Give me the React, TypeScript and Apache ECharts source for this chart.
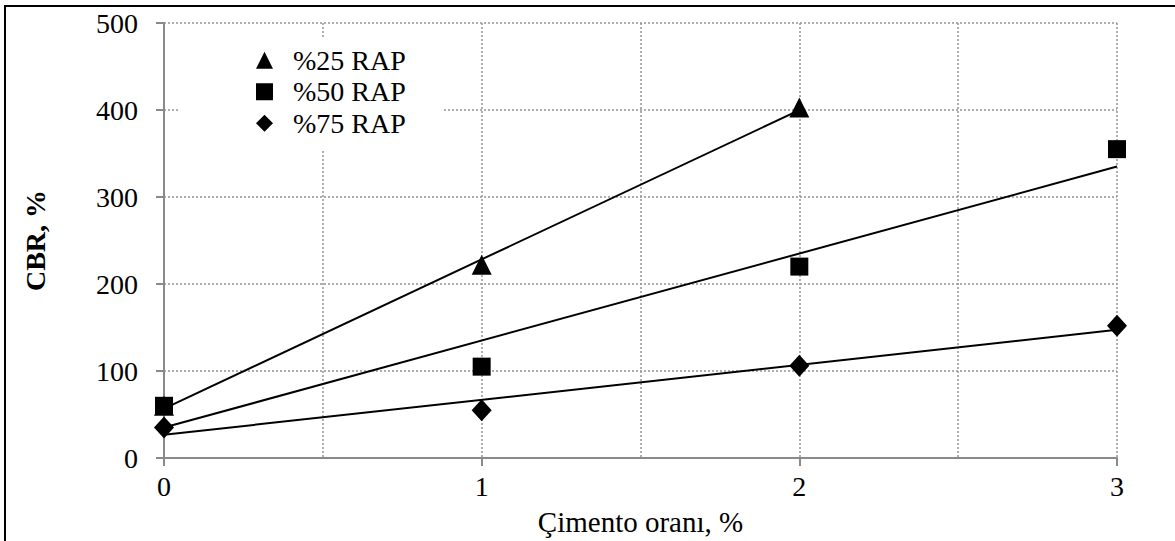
import React, { useEffect, useRef } from "react";
import * as echarts from "echarts";

// Cement ratio (%) and CBR (%) measurements for each RAP content
const rap25X = [0, 1, 2];
const rap25Y = [60, 222, 403];
const rap50X = [0, 1, 2, 3];
const rap50Y = [60, 105, 220, 355];
const rap75X = [0, 1, 2, 3];
const rap75Y = [35, 55, 106, 152];

const seriesNames = ["%25 RAP", "%50 RAP", "%75 RAP"];
const xTicks = [0, 1, 2, 3];
const yTicks = [0, 100, 200, 300, 400, 500];

const FONT = "Liberation Serif";

// least-squares linear trend line across the measured range
function trend(xs: number[], ys: number[]): number[][] {
  const n = xs.length;
  const mx = xs.reduce((a, b) => a + b, 0) / n;
  const my = ys.reduce((a, b) => a + b, 0) / n;
  let sxy = 0;
  let sxx = 0;
  for (let i = 0; i < n; i++) {
    sxy += (xs[i] - mx) * (ys[i] - my);
    sxx += (xs[i] - mx) * (xs[i] - mx);
  }
  const slope = sxy / sxx;
  const icpt = my - slope * mx;
  const x0 = Math.min(...xs);
  const x1 = Math.max(...xs);
  return [
    [x0, icpt + slope * x0],
    [x1, icpt + slope * x1],
  ];
}

const pts = (xs: number[], ys: number[]) => xs.map((x, i) => [x, ys[i]]);

export default function App() {
  const ref = useRef<HTMLDivElement>(null);

  useEffect(() => {
    if (!ref.current) return;
    const chart = echarts.init(ref.current, null, { renderer: "svg" });

    const gridColor = "#949494";
    const axisColor = "#8a8a8a";
    const markStyle = { color: "#000", opacity: 1 };

    const trendLine = (data: number[][]) => ({
      type: "line" as const,
      data,
      symbol: "none",
      silent: true,
      lineStyle: { color: "#000", width: 2 },
      z: 3,
    });

    chart.setOption({
      animation: false,
      backgroundColor: "#fff",
      textStyle: { fontFamily: FONT },
      graphic: [
        {
          type: "rect",
          shape: { x: 5, y: 6, width: 1300, height: 700 },
          style: { fill: "none", stroke: "#000", lineWidth: 2 },
          silent: true,
          z: 10,
        },
      ],
      grid: { left: 164, right: 58, top: 23, bottom: 81, containLabel: false },
      legend: {
        orient: "vertical",
        left: 180,
        top: 37,
        padding: [9, 36, 12, 76],
        backgroundColor: "#fff",
        itemWidth: 17,
        itemHeight: 17,
        itemGap: 3,
        selectedMode: false,
        itemStyle: { opacity: 1, color: "#000" },
        textStyle: {
          fontFamily: FONT,
          fontSize: 28,
          color: "#000",
          lineHeight: 28.5,
          padding: [0, 0, 0, 15],
        },
        data: [
          { name: seriesNames[0], icon: "triangle" },
          { name: seriesNames[1], icon: "rect" },
          { name: seriesNames[2], icon: "diamond" },
        ],
        z: 5,
      },
      xAxis: {
        type: "value",
        min: xTicks[0],
        max: xTicks[xTicks.length - 1],
        interval: 1,
        name: "Çimento oranı, %",
        nameLocation: "middle",
        nameGap: 49,
        nameTextStyle: { fontFamily: FONT, fontSize: 29, color: "#000" },
        axisLine: { show: true, onZero: false, lineStyle: { color: axisColor, width: 2 } },
        axisTick: { show: true, length: 8, lineStyle: { color: axisColor, width: 2 } },
        axisLabel: { fontFamily: FONT, fontSize: 28, color: "#000", margin: 14 },
        splitLine: { show: true, lineStyle: { color: gridColor, type: [2, 2], width: 1.5 } },
        minorTick: { show: false, splitNumber: 2 },
        minorSplitLine: { show: true, lineStyle: { color: gridColor, type: [2, 2], width: 1.5 } },
      },
      yAxis: {
        type: "value",
        min: yTicks[0],
        max: yTicks[yTicks.length - 1],
        interval: 100,
        name: "CBR, %",
        nameLocation: "middle",
        nameGap: 115,
        nameRotate: 90,
        nameTextStyle: { fontFamily: FONT, fontSize: 28, fontWeight: "bold", color: "#000" },
        axisLine: { show: true, onZero: false, lineStyle: { color: axisColor, width: 2 } },
        axisTick: { show: true, length: 8, lineStyle: { color: axisColor, width: 2 } },
        axisLabel: { fontFamily: FONT, fontSize: 28, color: "#000", margin: 26 },
        splitLine: { show: true, lineStyle: { color: gridColor, type: [2, 2], width: 1.5 } },
      },
      series: [
        trendLine(trend(rap25X, rap25Y)),
        trendLine(trend(rap50X, rap50Y)),
        trendLine(trend(rap75X, rap75Y)),
        {
          name: seriesNames[0],
          type: "scatter",
          data: pts(rap25X, rap25Y),
          symbol: "triangle",
          symbolSize: 20,
          itemStyle: markStyle,
          z: 4,
        },
        {
          name: seriesNames[1],
          type: "scatter",
          data: pts(rap50X, rap50Y),
          symbol: "rect",
          symbolSize: 18,
          itemStyle: markStyle,
          z: 4,
        },
        {
          name: seriesNames[2],
          type: "scatter",
          data: pts(rap75X, rap75Y),
          symbol: "diamond",
          symbolSize: [20, 22],
          itemStyle: markStyle,
          z: 4,
        },
      ],
    });

    return () => chart.dispose();
  }, []);

  return (
    <div
      ref={ref}
      style={{ position: "absolute", left: 0, top: 0, width: 1175, height: 541 }}
    />
  );
}
